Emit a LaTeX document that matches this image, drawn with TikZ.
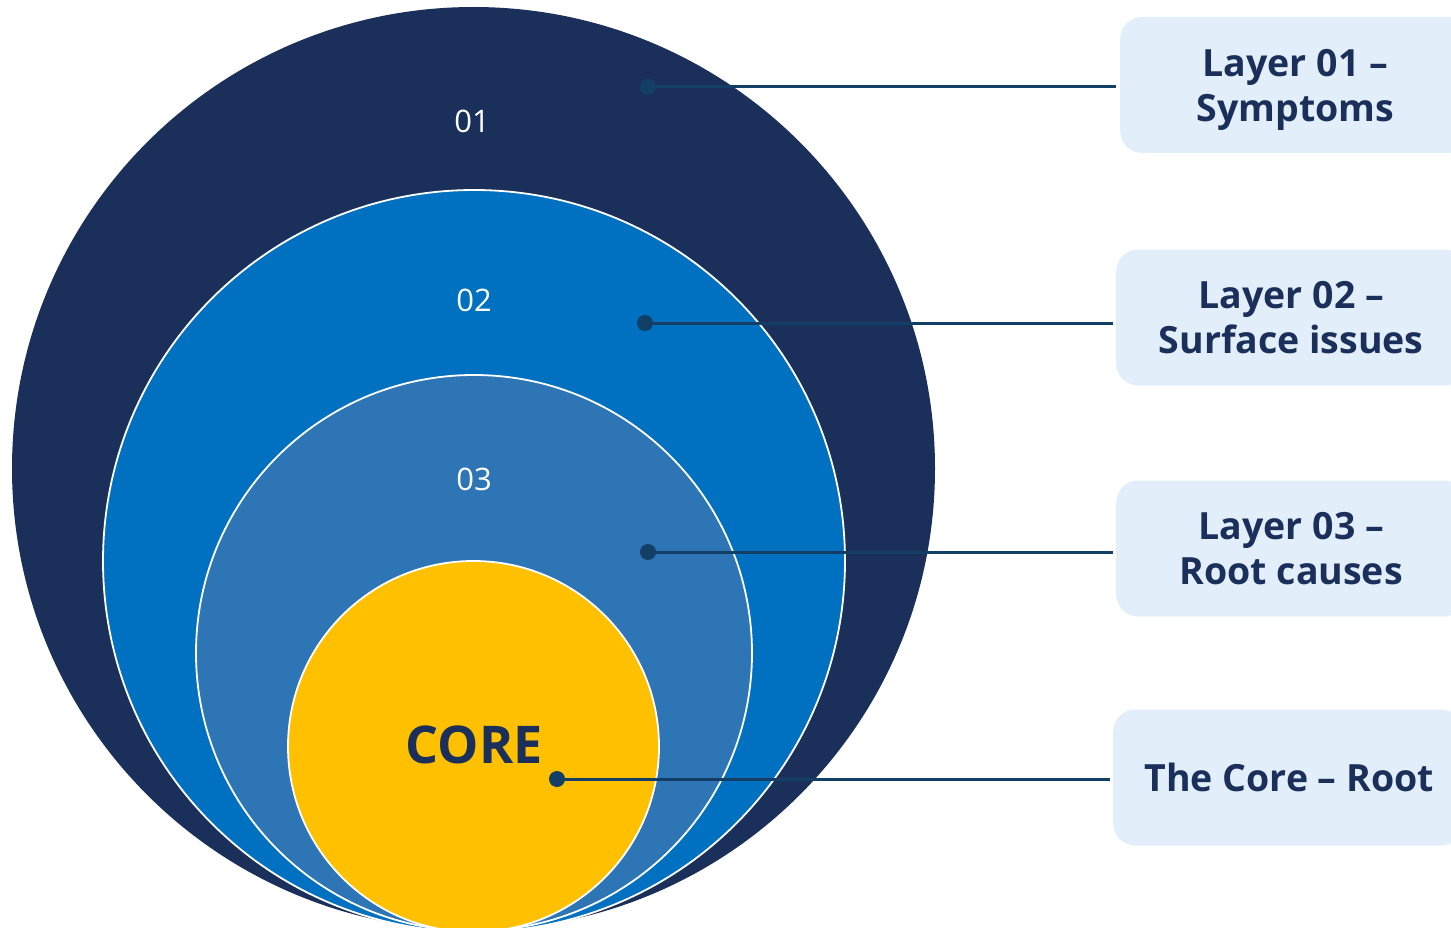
\documentclass[tikz,border=0pt]{standalone}
\usepackage{fontspec}
\setmainfont{Open Sans}
\begin{document}
\begin{tikzpicture}[x=1pt,y=-1pt,
  ring/.style={draw=white,line width=1.8pt},
  lbl/.style={text=white,font=\fontsize{31}{36}\selectfont},
  dotc/.style={circle,fill=lineblue,inner sep=0pt,minimum size=16pt},
  link/.style={draw=lineblue,line width=3pt},
  tag/.style={fill=tagfill,rounded corners=22pt,minimum width=350pt,minimum height=136pt,
    inner sep=0pt,anchor=west},
  tagtext/.style={text=navy,align=center,inner sep=0pt,
    font=\bfseries\fontsize{37.5}{45}\selectfont}]
\definecolor{navy}{HTML}{1B2F5B}
\definecolor{ringtwo}{HTML}{0070C0}
\definecolor{ringthree}{HTML}{2E75B6}
\definecolor{coreyellow}{HTML}{FFC000}
\definecolor{lineblue}{HTML}{133F66}
\definecolor{tagfill}{HTML}{E2EFFB}
\clip (0,0) rectangle (1451,928);
\fill[white] (0,0) rectangle (1451,928);
% concentric layers, all touching at the bottom
\fill[navy] (473.5,468.5) circle (461.5);
\filldraw[fill=ringtwo,ring] (474,561) circle (371);
\filldraw[fill=ringthree,ring] (474,653) circle (278);
\filldraw[fill=coreyellow,ring] (473.5,746.5) circle (185.5);
% layer numbers
\node[lbl] (n1) at (472,121) {01};
\node[lbl] (n2) at (474,300) {02};
\node[lbl] (n3) at (474,479) {03};
\node[text=navy,font=\bfseries\fontsize{52}{60}\selectfont] (core) at (474,745) {CORE};
% description tags
\node[tag] (t1) at (1120,85) {};
\node[tag] (t2) at (1116,317.5) {};
\node[tag] (t3) at (1116,548.5) {};
\node[tag] (t4) at (1113,777.5) {};
\node[tagtext,yshift=-5pt] (l1) at (t1.center) {Layer 01 –\\Symptoms};
\node[tagtext,yshift=-0.5pt] (l2) at (t2.center) {Layer 02 –\\Surface issues};
\node[tagtext,yshift=-0.5pt] (l3) at (t3.center) {Layer 03 –\\Root causes};
\node[tagtext,xshift=1pt] (l4) at (t4.center) {The Core – Root};
% anchor dots
\node[dotc] (d1) at (648,87) {};
\node[dotc] (d2) at (645,323) {};
\node[dotc] (d3) at (648,552) {};
\node[dotc] (d4) at (557,779) {};
% connectors
\draw[link,shorten >=4pt] (d1.center) -- (d1.center -| t1.west);
\draw[link,shorten >=3pt] (d2.center) -- (d2.center -| t2.west);
\draw[link,shorten >=3pt] (d3.center) -- (d3.center -| t3.west);
\draw[link,shorten >=3pt] (d4.center) -- (d4.center -| t4.west);
\end{tikzpicture}
\end{document}
